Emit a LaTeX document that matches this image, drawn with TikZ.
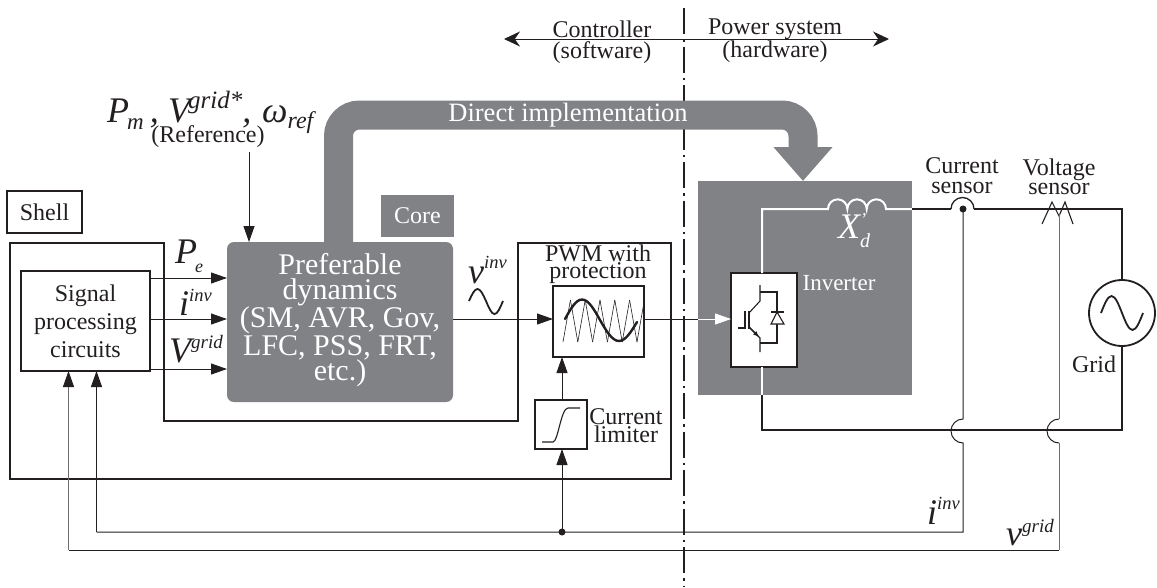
\documentclass[tikz,border=0pt]{standalone}
\usepackage{fontspec}
\setmainfont{Liberation Serif}
\usetikzlibrary{arrows.meta, positioning}
\definecolor{coregray}{HTML}{808285}
\definecolor{inkblack}{HTML}{231F20}
\newcommand{\scrtxt}[3]{\raisebox{#1}{\fontsize{#2}{#2}\selectfont\textit{#3}}}
\tikzset{
  lbl/.style={font=\fontsize{24}{#1}\selectfont, align=center, inner sep=0pt, text=inkblack},
  lbl/.default=24,
  wlbl/.style={lbl=#1, text=white},
  wlbl/.default=24,
  sym/.style={font=\fontsize{36}{36}\selectfont\itshape, anchor=base west, inner sep=0pt, text=inkblack},
  plainbox/.style={draw=inkblack, line width=1.4pt, fill=white, inner sep=0pt, outer sep=0pt},
  sig/.style={draw=inkblack, line width=1pt, -{Triangle[length=16pt,width=11pt,color=inkblack,fill=inkblack]}},
  thin wire/.style={draw=inkblack, line width=1pt},
  heavy/.style={draw=inkblack, line width=2.4pt, line join=miter},
}
\begin{document}
\begin{tikzpicture}[x=1pt,y=-1pt]
\useasboundingbox (0,0) rectangle (1157,587);

% divider
\draw[inkblack, line width=2pt, dash pattern=on 26pt off 5pt on 2.5pt off 5pt] (684,8) -- (684,587);

% controller / power system
\coordinate (leftend) at (504,39);
\coordinate (rightend) at (889,39);
\draw[thin wire, {Stealth[length=16pt,width=15pt]}-{Stealth[length=16pt,width=15pt]}] (leftend) -- (rightend);
\node[lbl=20.5] (ctrl) at (602,42) {Controller\\(software)};
\node[lbl=20.5] (power) at (775,41) {Power system\\(hardware)};

% gray blocks
\node[fill=coregray, minimum width=214, minimum height=214, inner sep=0pt, outer sep=0pt] (panel) at (805,288) {};
\node[fill=coregray, rounded corners=7pt, minimum width=226, minimum height=160, inner sep=0pt, outer sep=0pt] (core) at (340,322) {};
\node[fill=coregray, minimum width=73, minimum height=42, inner sep=0pt, outer sep=0pt, wlbl] (corelbl) at (417.5,216) {Core};
\node[wlbl=25.5, font=\fontsize{30}{25.5}\selectfont] (coretxt) at (340,320) {Preferable\\dynamics\\(SM, AVR, Gov,\\LFC, PSS, FRT,\\etc.)};

% direct implementation
\coordinate (bandstart) at (338.5,242);
\coordinate (bandtop) at (338.5,115);
\coordinate (bandright) at (803,115);
\coordinate (bandend) at (803,181);
\draw[coregray, line width=29pt, rounded corners=21pt, -{Triangle[length=34pt,width=57pt]}] (bandstart) -- (bandtop) -- (bandright) -- (bandend);
\node[wlbl, font=\fontsize{26.5}{26.5}\selectfont] (direct) at (568,115) {Direct implementation};

% reference
\node[sym] (refP) at (107,122) {P\hspace{-2pt}\scrtxt{-7pt}{23}{m}\hspace{6pt},};
\node[sym] (refV) at (168,122) {V\hspace{-2pt}\scrtxt{14pt}{25}{grid*},};
\node[sym] (refw) at (262,122) {ω\scrtxt{-6pt}{24}{ref}};
\node[lbl] (reftxt) at (208,137) {(Reference)};
\coordinate (refin) at (249,152);
\draw[sig] (refin) -- (refin |- core.north);

% shell
\node[plainbox, lbl, minimum width=75, minimum height=42] (shell) at (44.5,212) {Shell};
\draw[heavy] (10,243) -- (164,243) -- (164,421) -- (518,421) -- (518,243) -- (671,243) -- (671,479) -- (10,479) -- cycle;

% signal processing
\node[plainbox, lbl=28, minimum width=129, minimum height=100] (signal) at (85.5,321) {Signal\\processing\\circuits};
\coordinate (pein) at (227,278);
\coordinate (iin) at (227,319);
\coordinate (vin) at (227,369);
\draw[sig] (signal.east |- pein) -- (pein);
\draw[sig] (signal.east |- iin) -- (iin);
\draw[sig] (signal.east |- vin) -- (vin);
\node[sym] (pelbl) at (175,263) {P\hspace{-2pt}\scrtxt{-9pt}{18}{e}};
\node[sym] (ilbl) at (179,315) {i\scrtxt{14pt}{18.5}{inv}};
\node[sym] (vlbl) at (169,362) {V\scrtxt{14pt}{19}{grid}};

% pwm
\node[plainbox, minimum width=91, minimum height=71] (pwm) at (598.5,321.5) {};
\node[lbl=15] (pwmlbl) at (598,264) {PWM with\\protection};
\foreach \k in {0,...,5} {
  \draw[inkblack, line width=0.6pt] ({563+14.8*\k},342) -- ({563+14.8*\k+7.4},300);
  \ifnum\k<5 \draw[inkblack, line width=0.6pt] ({563+14.8*\k+7.4},300) -- ({563+14.8*(\k+1)},342); \fi
}
\draw[inkblack, line width=2.4pt, line cap=round] (565,319) sin (582,299.5) cos (600,320) sin (619,341) cos (637,322);
\coordinate (coreout) at (453,319);
\draw[sig] (coreout) -- (coreout -| pwm.west);
\node[sym] (vinv) at (468,283) {v\scrtxt{15pt}{18.5}{inv}};
\draw[inkblack, line width=1.8pt] (469,301) sin (477.5,289) cos (486,301) sin (494.5,314) cos (503,301);

% current limiter
\node[plainbox, minimum width=52, minimum height=49] (limiter) at (561,424.5) {};
\draw[inkblack, line width=1.1pt] (542,442) -- (553,442) .. controls (558,442) and (561,408) .. (568,408) -- (580,408);
\node[lbl=18] (limlbl) at (626,426) {Current\\limiter};
\coordinate (limin) at (562,532);
\draw[sig] (limiter.north -| limin) -- (pwm.south -| limin);
\draw[sig] (limin) -- (limiter.south -| limin);
\fill[inkblack] (limin) circle (3.5pt);

% power circuit
\node[plainbox, minimum width=66, minimum height=94] (inv) at (764,320) {};
\node[wlbl, font=\fontsize{23}{23}\selectfont] (invlbl) at (839,283) {Inverter};
\coordinate (invin) at (698,319);
\draw[thin wire] (pwm.east |- invin) -- (invin);
\draw[white, line width=1pt, -{Triangle[length=16pt,width=11pt]}] (invin) -- (invin -| inv.west);

% igbt and diode
\draw[inkblack, line width=1.1pt] (760,285) -- (760,301) -- (749,313);
\draw[inkblack, line width=1.1pt] (749,327) -- (760,338) -- (760,352);
\draw[inkblack, line width=1.1pt, -{Latex[length=6pt,width=5pt]}] (749,327) -- (759,337);
\draw[inkblack, line width=1.4pt] (749,311) -- (749,329);
\draw[inkblack, line width=1.1pt] (745,311) -- (745,328) -- (738,328);
\draw[inkblack, line width=1.1pt] (760,292) -- (777,292) -- (777,343) -- (760,343);
\draw[inkblack, line width=1.1pt, fill=white] (771,324) -- (784,324) -- (777,312) -- cycle;
\draw[inkblack, line width=1.1pt] (771,312) -- (784,312);

% wires
\node[draw=inkblack, fill=white, line width=1.8pt, circle, minimum size=66, inner sep=0pt, outer sep=0pt] (grid) at (1122,313) {};
\draw[inkblack, line width=1.8pt] (1101,313) sin (1111.5,296) cos (1122,313) sin (1132.5,330) cos (1143,313);
\node[lbl] (gridlbl) at (1094,364) {Grid};
\draw[white, line width=2pt] (inv.north -| 762,0) -- (762,209) -- (828,209) arc[start angle=180, end angle=360, radius=9.67] arc[start angle=180, end angle=360, radius=9.67] arc[start angle=180, end angle=360, radius=9.67] -- (panel.east |- 0,209);
\draw[heavy] (panel.east |- 0,209) -- (951,209);
\draw[inkblack, line width=1.3pt] (951,209) arc[start angle=180, end angle=360, radius=11.5];
\draw[heavy] (974,209) -- (1122,209) -- (grid.north);
\draw[heavy] (grid.south) -- (1122,430) -- (762,430) -- (panel.south -| 762,0);
\draw[white, line width=2pt] (panel.south -| 762,0) -- (inv.south -| 762,0);
\node[sym, text=white] (xd) at (838,238) {X\rlap{\raisebox{13pt}{\fontsize{18}{18}\selectfont '}}\scrtxt{-9pt}{20}{d}};

% sensors
\node[lbl=20] (curlbl) at (962,176) {Current\\sensor};
\node[lbl=19] (vollbl) at (1059,177) {Voltage\\sensor};
\coordinate (curdot) at (963,209);
\fill[inkblack] (curdot) circle (3.5pt);
\draw[inkblack, line width=1.1pt] (1042,224) -- (1052,202) -- (1059,216) -- (1065,202) -- (1073,224);
\coordinate (sigi) at (96.5,532);
\coordinate (sigv) at (68.5,550);
\draw[thin wire] (curdot) -- (963,419) arc[start angle=-90, end angle=-270, radius=12] -- (963,532) -- (sigi);
\draw[sig] (sigi) -- (signal.south -| sigi);
\draw[thin wire, draw=inkblack!65] (1059,214) -- (1059,419);
\draw[thin wire] (1059,419) arc[start angle=-90, end angle=-270, radius=12];
\draw[thin wire, draw=inkblack!65] (1059,443) -- (1059,550);
\draw[thin wire] (1059,550) -- (sigv);
\draw[sig, draw=inkblack!65] (sigv) -- (signal.south -| sigv);
\node[sym] (iinv) at (927,524) {i\scrtxt{15pt}{18.5}{inv}};
\node[sym] (vgrid) at (1006,545) {v\scrtxt{13pt}{19}{grid}};
\end{tikzpicture}
\end{document}
